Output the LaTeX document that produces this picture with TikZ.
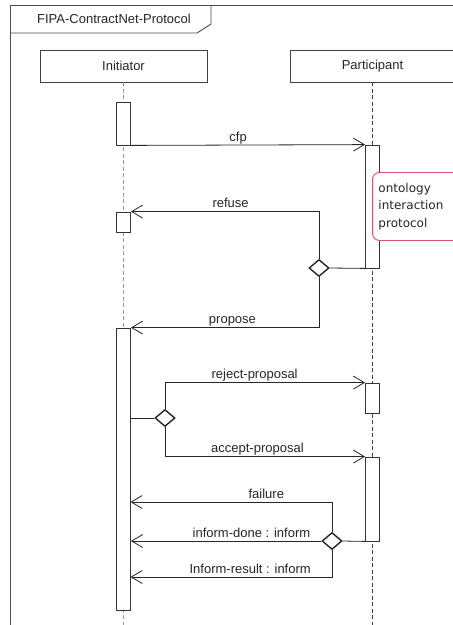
\documentclass[tikz,border=0pt]{standalone}
\usepackage{fontspec}
\setmainfont{Liberation Sans}
\newfontfamily\notefont{DejaVu Sans}
\usetikzlibrary{shapes.geometric,arrows.meta}
\definecolor{notered}{HTML}{D8506A}
\begin{document}
\begin{tikzpicture}[x=1pt,y=-1pt,
  ln/.style={draw=black!85, line width=0.8pt},
  hdr/.style={draw=black!75, line width=0.9pt, fill=white, minimum height=32pt, inner sep=0pt, font=\fontsize{13}{15}\selectfont, text=black!85},
  act/.style={draw=black!80, line width=0.8pt, fill=white, minimum width=14pt, inner sep=0pt},
  dia/.style={diamond, draw=black!85, line width=1.4pt, fill=white, minimum width=20pt, minimum height=17pt, inner sep=0pt},
  msg/.style={draw=black!85, line width=0.8pt, -{Straight Barb[length=11pt,width=13pt]}},
  lbl/.style={anchor=base, yshift=4pt, inner sep=0pt, font=\fontsize{13}{15}\selectfont, text=black!85},
  life/.style={dash pattern=on 4pt off 2.5pt, line width=0.9pt}
]
\useasboundingbox (0,0) rectangle (453,625);
\clip (0,0) rectangle (453,625);
\fill[white] (0,0) rectangle (453,625);
% frame
\draw[draw=black!70, line width=0.9pt] (10,640) -- (10,5) -- (470,5);
\draw[draw=black!70, line width=0.9pt] (10,33) -- (197,33) -- (211,24) -- (211,5);
\node[font=\fontsize{13}{15}\selectfont, text=black!85] (title) at (114,19) {FIPA-ContractNet-Protocol};
% headers
\node[hdr, minimum width=167pt] (init) at (123.5,66) {Initiator};
\node[hdr, minimum width=165pt] (part) at (372.5,66) {Participant};
\coordinate (ibot) at (123.5,640);
\coordinate (pbot) at (372.5,640);
\draw[life, draw=black!40] (init.south) -- (ibot);
\draw[life, draw=black!75] (part.south) -- (pbot);
% activations
\node[act, minimum height=43pt] (a1) at (123.5,123.5) {};
\node[act, minimum height=20pt] (a2) at (123.5,222) {};
\node[act, minimum height=282pt] (a3) at (123.5,469) {};
\node[act, minimum height=123pt] (p1) at (372.5,206.5) {};
\node[act, minimum height=30pt] (p2) at (372.5,398) {};
\node[act, minimum height=84pt] (p3) at (372.5,499) {};
% note
\node[draw=notered, line width=0.9pt, rounded corners=7pt, fill=white, anchor=north west,
      minimum width=100pt, minimum height=68pt, inner sep=5pt, text width=88pt, align=left,
      font=\notefont\fontsize{12}{17.5}\selectfont, text=black!85] (note) at (372,172)
  {ontology\\interaction\\protocol};
% decisions
\node[dia] (d1) at (319,268) {};
\node[dia] (d2) at (165,418) {};
\node[dia] (d3) at (332,541) {};
\coordinate (fail) at (130.5,502);
\coordinate (res) at (130.5,577);
% messages
\draw[msg] (a1.south east) -- node[lbl, pos=0.458] {cfp} (p1.north west);
\draw[ln] (d1.east) -- (p1.south west);
\draw[msg] (d1.north) |- node[lbl, pos=0.735] {refuse} (a2.north east);
\draw[msg] (d1.south) |- node[lbl, pos=0.73] {propose} (a3.north east);
\draw[ln] (a3.east |- d2.west) -- (d2.west);
\draw[msg] (d2.north) |- node[lbl, pos=0.724] {reject-proposal} (p2.north west);
\draw[msg] (d2.south) |- node[lbl, pos=0.731] {accept-proposal} (p3.north west);
\draw[ln] (d3.east) -- (p3.south west);
\draw[msg] (d3.north) |- node[lbl, pos=0.663] {failure} (fail);
\draw[msg] (d3.west) -- node[lbl, pos=0.367] {inform-done : inform} (a3.east |- d3.west);
\draw[msg] (d3.south) |- node[lbl, pos=0.703] {Inform-result : inform} (res);
\end{tikzpicture}
\end{document}
